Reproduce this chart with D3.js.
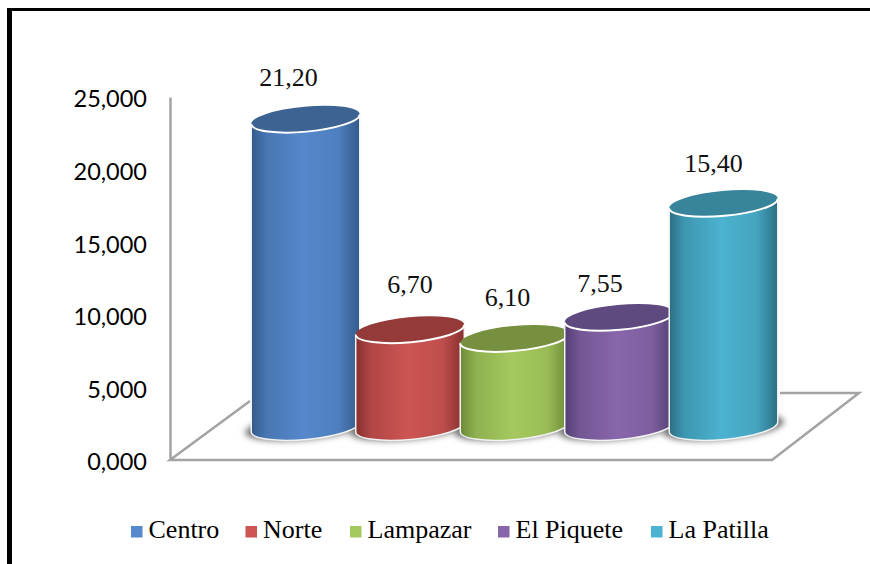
<!DOCTYPE html>
<html>
<head>
<meta charset="utf-8">
<script src="https://cdn.jsdelivr.net/npm/d3@7"></script>
<style>
  html, body { margin: 0; background: #fff; }
  svg { display: block; }
  .axis-y text { font-family: Lato, sans-serif; font-size: 23.5px; fill: #000; }
  .axis-y path { stroke: #a3a3a3; stroke-width: 2.5px; }
  .value { font-family: "Liberation Serif", serif; font-size: 26px; fill: #111; text-anchor: middle; }
  .legend text { font-family: "Liberation Serif", serif; font-size: 26px; fill: #000; }
</style>
</head>
<body>
<div id="viz"></div>
<script>
const categories = ["Centro", "Norte", "Lampazar", "El Piquete", "La Patilla"];
const values = [21.2, 6.7, 6.1, 7.55, 15.4];
const valueLabels = ["21,20", "6,70", "6,10", "7,55", "15,40"];
const tickValues = [0, 5, 10, 15, 20, 25];
const tickLabels = ["0,000", "5,000", "10,000", "15,000", "20,000", "25,000"];

const baseColors = ["#5588cc", "#cc5553", "#a5c95e", "#8866aa", "#4bb2cf"];
const edgeColors = ["#345a8c", "#86302f", "#6c8a38", "#543f74", "#2b6f84"];
const topColors = ["#3d6392", "#943a38", "#76903f", "#5f4a80", "#38849b"];

const width = 870;
const height = 564;

const svg = d3.select("#viz")
  .append("svg")
    .attr("width", width)
    .attr("height", height);

const defs = svg.append("defs");

defs.append("filter")
    .attr("id", "soft")
    .attr("x", "-20%").attr("y", "-50%")
    .attr("width", "140%").attr("height", "200%")
  .append("feGaussianBlur")
    .attr("stdDeviation", 3);

// side shading of each cylinder
categories.forEach((c, i) => {
  const grad = defs.append("linearGradient").attr("id", `side${i}`);
  [[0, edgeColors[i]], [0.14, d3.interpolateRgb(edgeColors[i], baseColors[i])(0.6)],
   [0.48, baseColors[i]], [0.8, d3.interpolateRgb(edgeColors[i], baseColors[i])(0.8)],
   [1, edgeColors[i]]].forEach(([o, col]) => {
    grad.append("stop").attr("offset", o).attr("stop-color", col);
  });
});

// outer frame, top and left only
svg.append("rect").attr("x", 7).attr("y", 8).attr("width", width - 7).attr("height", 3).attr("fill", "#000");
svg.append("rect").attr("x", 7).attr("y", 8).attr("width", 5).attr("height", height - 8).attr("fill", "#000");

const y = d3.scaleLinear().domain([0, 25]).range([460, 97]);
const floorRise = 33; // cylinders stand this far up the floor
const x = d3.scalePoint().domain(categories).range([305.5, 723.5]);

const rx = 54.5, ry = 12.5, tilt = -5.3;
const dx = rx * Math.cos(tilt * Math.PI / 180);
const dy = rx * Math.sin(tilt * Math.PI / 180);

// floor of the 3D plot
const floorLine = d3.line();
svg.append("path")
  .attr("d", floorLine([[250, 401], [170, 460], [772, 460], [859, 393], [780, 393]]))
  .attr("fill", "none")
  .attr("stroke", "#a3a3a3")
  .attr("stroke-width", 2.5);

svg.append("g")
  .attr("class", "axis-y")
  .attr("transform", "translate(170,0)")
  .call(d3.axisLeft(y)
    .tickValues(tickValues)
    .tickFormat((d, i) => tickLabels[i])
    .tickSizeOuter(0)
    .tickSize(0)
    .tickPadding(23))
  .call(g => g.select(".domain").attr("fill", "none"))
  .call(g => g.selectAll("text").attr("dy", "0.42em"));

const data = categories.map((c, i) => ({ c, i, v: values[i], label: valueLabels[i] }));

const baseY = y(0) - floorRise;
const topY = d => y(d.v) - floorRise;

// contact shadows
svg.append("g").selectAll("ellipse")
  .data(data)
  .join("ellipse")
    .attr("cx", d => x(d.c))
    .attr("cy", baseY)
    .attr("rx", rx + 6)
    .attr("ry", ry)
    .attr("transform", d => `rotate(${tilt},${x(d.c)},${baseY})`)
    .attr("fill", "#6a6a6a")
    .attr("filter", "url(#soft)");

const cyl = svg.append("g").selectAll("g")
  .data(data)
  .join("g");

cyl.append("path")
  .attr("d", d => {
    const cx = x(d.c), t = topY(d);
    return `M${cx - dx},${t - dy}L${cx - dx},${baseY - dy}` +
      `A${rx},${ry} ${tilt} 0 0 ${cx + dx},${baseY + dy}L${cx + dx},${t + dy}Z`;
  })
  .attr("fill", d => `url(#side${d.i})`)
  .attr("stroke", "#f2f2f2")
  .attr("stroke-width", 1.5);

cyl.append("ellipse")
  .attr("cx", d => x(d.c))
  .attr("cy", d => topY(d))
  .attr("rx", rx)
  .attr("ry", ry)
  .attr("transform", d => `rotate(${tilt},${x(d.c)},${topY(d)})`)
  .attr("fill", d => topColors[d.i]);

// bright front rim of the top face
cyl.append("path")
  .attr("d", d => {
    const cx = x(d.c), t = topY(d);
    return `M${cx - dx},${t - dy}A${rx},${ry} ${tilt} 0 0 ${cx + dx},${t + dy}`;
  })
  .attr("fill", "none")
  .attr("stroke", "#fff")
  .attr("stroke-width", 2);

// value labels sit by hand around each top
const labelShift = [[-17, -33], [0, -37], [-7, -32], [-19, -25], [-10, -31]];
svg.append("g").selectAll("text")
  .data(data)
  .join("text")
    .attr("class", "value")
    .attr("x", d => x(d.c) + labelShift[d.i][0])
    .attr("y", d => topY(d) + labelShift[d.i][1])
    .text(d => d.label);

// legend
const legendSwatchX = [131, 245.5, 350, 498, 651];
const legend = svg.append("g").attr("class", "legend")
  .selectAll("g")
  .data(data)
  .join("g")
    .attr("transform", d => `translate(${legendSwatchX[d.i]},526)`);

legend.append("rect")
  .attr("width", 11.5)
  .attr("height", 11.5)
  .attr("fill", d => baseColors[d.i]);

legend.append("text")
  .attr("x", 17.5)
  .attr("y", 12)
  .text(d => d.c);
</script>
</body>
</html>
